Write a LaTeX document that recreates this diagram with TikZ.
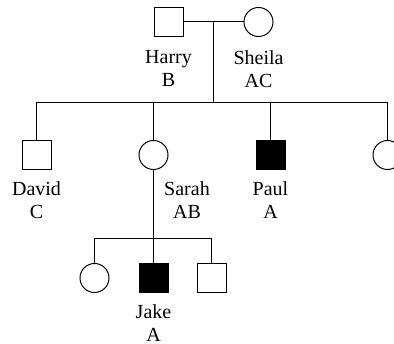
\documentclass[tikz,border=0pt]{standalone}
\usepackage{fontspec}
\setmainfont{Liberation Serif}
\usepackage{xcolor}
\usepackage{tikz}
\usetikzlibrary{positioning,calc}
\definecolor{pedInk}{HTML}{000000}
\definecolor{pedPaper}{HTML}{FFFFFF}
\tikzset{
  person/.style={
    draw=pedInk,
    fill=pedPaper,
    line width=1pt,
    inner sep=0pt,
    minimum size=29pt
  },
  male/.style={person, rectangle},
  female/.style={person, circle},
  affected/.style={fill=pedInk},
  tag/.style={
    align=center,
    inner sep=0pt,
    font=\fontsize{20}{23}\selectfont
  },
  link/.style={draw=pedInk, line width=1pt}
}
\begin{document}
\begin{tikzpicture}[x=1pt, y=1pt]
  \useasboundingbox[fill=pedPaper] (0,0) rectangle (394,344);
  % parents
  \node[male] (harry) at (168.5,322) {};
  \node[female, right=60pt of harry] (sheila) {};
  \node[tag, below=13pt of harry] (harrytag) {Harry\\B};
  \node[tag, below=13pt of sheila] (sheilatag) {Sheila\\AC};
  % children
  \node[male] (david) at (36.5,189) {};
  \node[female, right=87pt of david] (sarah) {};
  \node[male, affected, right=87pt of sarah] (paul) {};
  \node[female, right=87pt of paul] (daughter) {};
  \node[tag, below=11pt of david] (davidtag) {David\\C};
  \node[tag, below=11pt of sarah, xshift=33.5pt] (sarahtag) {Sarah\\AB};
  \node[tag, below=11pt of paul] (paultag) {Paul\\A};
  % grandchildren
  \node[male, affected, below=93pt of sarah] (jake) {};
  \node[female, left=29pt of jake] (granddaughter) {};
  \node[male, right=28pt of jake] (grandson) {};
  \node[tag, below=11pt of jake] (jaketag) {Jake\\A};
  % lines of descent
  \coordinate (couple) at ($(harry.east)!0.5!(sheila.west)$);
  \coordinate (sibs) at ([yshift=-81pt]couple);
  \coordinate (kids) at ([yshift=-69pt]sarah.south);
  \draw[link] (harry) -- (sheila);
  \draw[link] (couple) -- (sibs);
  \foreach \c in {david,sarah,paul,daughter}
    \draw[link] (\c.north) |- (sibs);
  \draw[link] (sarah.south) -- (kids);
  \foreach \c in {granddaughter,jake,grandson}
    \draw[link] (\c.north) |- (kids);
\end{tikzpicture}
\end{document}
